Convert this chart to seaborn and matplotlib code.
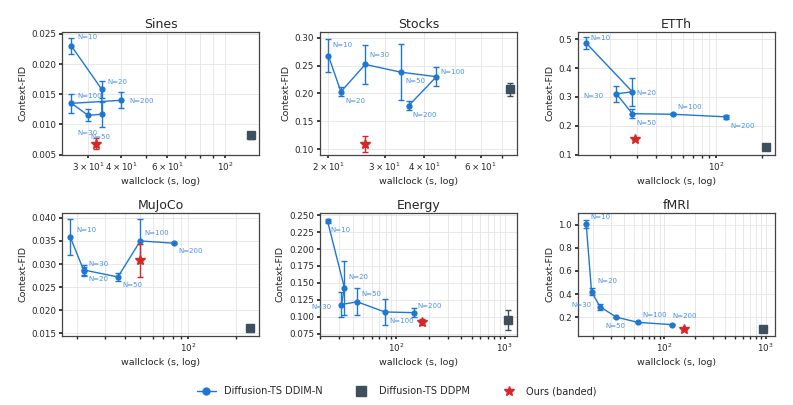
import numpy as np
import pandas as pd
import matplotlib
matplotlib.use('Agg')
import matplotlib.pyplot as plt
from matplotlib.lines import Line2D
from matplotlib.ticker import NullFormatter, MultipleLocator
import seaborn as sns

# data per panel (points listed in the order the line connects them)
titles = ["Sines", "Stocks", "ETTh", "MuJoCo", "Energy", "fMRI"]

sines_n = [10, 20, 50, 30, 100, 200]
sines_t = [25.9, 33.8, 33.8, 30.0, 25.9, 40.0]
sines_fid = [0.0230, 0.0158, 0.0117, 0.0115, 0.0135, 0.0140]
sines_err = [0.0013, 0.0014, 0.0021, 0.0010, 0.0016, 0.0013]

stocks_n = [10, 20, 30, 50, 100, 200]
stocks_t = [20.0, 21.9, 26.1, 33.8, 43.6, 35.7]
stocks_fid = [0.268, 0.203, 0.252, 0.238, 0.230, 0.178]
stocks_err = [0.030, 0.008, 0.035, 0.050, 0.017, 0.008]

etth_n = [10, 20, 30, 50, 100, 200]
etth_t = [13.9, 28.0, 22.0, 28.0, 51.8, 116.0]
etth_fid = [0.487, 0.318, 0.311, 0.242, 0.240, 0.231]
etth_err = [0.020, 0.048, 0.027, 0.015, 0.004, 0.006]

mujoco_n = [10, 20, 30, 50, 100, 200]
mujoco_t = [18.1, 22.1, 22.1, 36.1, 50.0, 82.0]
mujoco_fid = [0.0358, 0.0284, 0.0287, 0.0272, 0.0350, 0.0345]
mujoco_err = [0.0039, 0.0010, 0.0010, 0.0009, 0.0047, 0.0002]

energy_n = [10, 20, 30, 50, 100, 200]
energy_t = [23.4, 33.4, 31.4, 43.8, 78.8, 145.0]
energy_fid = [0.241, 0.143, 0.118, 0.122, 0.107, 0.106]
energy_err = [0.003, 0.040, 0.019, 0.020, 0.019, 0.007]

fmri_n = [10, 20, 30, 50, 100, 200]
fmri_t = [17.0, 19.2, 23.3, 33.7, 55.0, 119.0]
fmri_fid = [1.01, 0.42, 0.29, 0.20, 0.155, 0.135]
fmri_err = [0.035, 0.030, 0.025, 0.005, 0.005, 0.005]

# Diffusion-TS DDPM: time, fid, err
ddpm_t = [124.9, 73.9, 212.0, 245.0, 1070.0, 950.0]
ddpm_fid = [0.0082, 0.207, 0.127, 0.0162, 0.095, 0.100]
ddpm_err = [0.0006, 0.012, 0.003, 0.0004, 0.015, 0.006]

# Ours (banded)
ours_t = [32.0, 26.1, 29.0, 50.0, 173.0, 158.0]
ours_fid = [0.0068, 0.109, 0.153, 0.0308, 0.092, 0.095]
ours_err = [0.0009, 0.014, 0.003, 0.0036, 0.005, 0.003]

series = [
    (sines_n, sines_t, sines_fid, sines_err),
    (stocks_n, stocks_t, stocks_fid, stocks_err),
    (etth_n, etth_t, etth_fid, etth_err),
    (mujoco_n, mujoco_t, mujoco_fid, mujoco_err),
    (energy_n, energy_t, energy_fid, energy_err),
    (fmri_n, fmri_t, fmri_fid, fmri_err),
]

# axis settings
xlims = [(23.8, 134.6), (18.8, 78), (12.2, 244), (16, 281), (19.8, 1306), (14, 1235)]
ylims = [(0.005, 0.0253), (0.09, 0.31), (0.1, 0.525), (0.0145, 0.041), (0.072, 0.253), (0.04, 1.1)]
ysteps = [0.005, 0.05, 0.1, 0.005, 0.025, 0.2]

# label offsets in points (style only)
label_off = [
    {10: (4, 5), 20: (4, 4), 50: (-8, -18), 30: (-8, -14), 100: (4, 4), 200: (6, -2)},
    {10: (3, 6), 20: (3, -8), 30: (3, 5), 50: (3, -8), 100: (3, 2), 200: (3, -8)},
    {10: (3, 2), 20: (3, -2), 30: (-24, -3), 50: (3, -8), 100: (3, 4), 200: (3, -8)},
    {10: (4, 4), 20: (3, -7), 30: (3, 3), 50: (3, -7), 100: (3, 4), 200: (3, -7)},
    {10: (2, -8), 20: (3, 6), 30: (-22, -3), 50: (3, 4), 100: (3, -8), 200: (3, 3)},
    {10: (3, 3), 20: (4, 6), 30: (-21, 0), 50: (-8, -8), 100: (3, 4), 200: (0, 5)},
]

blue = "#1f77d4"
lblue = "#4a90e2"
slate = "#3d5060"
red = "#d62728"

sns.set_theme(style="whitegrid")
plt.rcParams['font.family'] = ['DejaVu Sans']

fig, axes = plt.subplots(2, 3, figsize=(7.93, 4.05), dpi=100)
axes = axes.ravel()

for i, ax in enumerate(axes):
    n, t, fid, err = series[i]
    df = pd.DataFrame({"t": t, "fid": fid, "err": err, "n": n})
    sns.lineplot(data=df, x="t", y="fid", sort=False, estimator=None, errorbar=None,
                 color=blue, lw=1.0, marker="o", markersize=4.5, markeredgewidth=0, ax=ax)
    ax.errorbar(df.t, df.fid, yerr=df.err, fmt="none", ecolor=blue, elinewidth=1.0, capsize=2)
    for _, r in df.iterrows():
        ax.annotate(f"N={int(r.n)}", (r.t, r.fid), xytext=label_off[i][int(r.n)],
                    textcoords="offset points", fontsize=5, color=lblue)
    ax.errorbar([ddpm_t[i]], [ddpm_fid[i]], yerr=[ddpm_err[i]], fmt="s", color=slate,
                ms=6, elinewidth=1.0, capsize=2)
    ax.errorbar([ours_t[i]], [ours_fid[i]], yerr=[ours_err[i]], fmt="*", color=red,
                ms=7, elinewidth=1.0, capsize=2)
    ax.set_xscale("log")
    ax.set_xlim(*xlims[i])
    ax.set_ylim(*ylims[i])
    ax.yaxis.set_major_locator(MultipleLocator(ysteps[i]))
    ax.set_title(titles[i], fontsize=9, pad=3)
    ax.set_xlabel("wallclock (s, log)", fontsize=6.8, labelpad=3)
    ax.set_ylabel("Context-FID", fontsize=6.8, labelpad=3)
    ax.tick_params(labelsize=6.3, length=2.5, pad=1.5, which="both", bottom=True, left=True)
    ax.grid(True, which="both", color="#e4e4e4", lw=0.6)
    for s in ax.spines.values():
        s.set_color("#444444")
        s.set_linewidth(0.9)
    ax.set_facecolor("white")

axes[0].xaxis.set_minor_formatter(NullFormatter())
axes[0].set_xticks([30, 40, 60, 100])
axes[0].set_xticklabels([r"$3\times10^{1}$", r"$4\times10^{1}$", r"$6\times10^{1}$", r"$10^{2}$"])
axes[1].xaxis.set_minor_formatter(NullFormatter())
axes[1].set_xticks([20, 30, 40, 60])
axes[1].set_xticklabels([r"$2\times10^{1}$", r"$3\times10^{1}$", r"$4\times10^{1}$", r"$6\times10^{1}$"])
for ax in axes[2:]:
    ax.xaxis.set_minor_formatter(NullFormatter())

handles = [
    Line2D([], [], color=blue, marker="o", lw=1.0, ms=5),
    Line2D([], [], color=slate, marker="s", lw=0, ms=7),
    Line2D([], [], color=red, marker="*", lw=0, ms=7),
]
fig.legend(handles, ["Diffusion-TS DDIM-N", "Diffusion-TS DDPM", "Ours (banded)"],
           loc="lower center", ncol=3, frameon=False, fontsize=7, bbox_to_anchor=(0.5, 0.0),
           columnspacing=3)

plt.tight_layout(rect=(0, 0.05, 1, 1), h_pad=0.8, w_pad=1.0)
plt.savefig("out.png", dpi=100)
plt.close()
